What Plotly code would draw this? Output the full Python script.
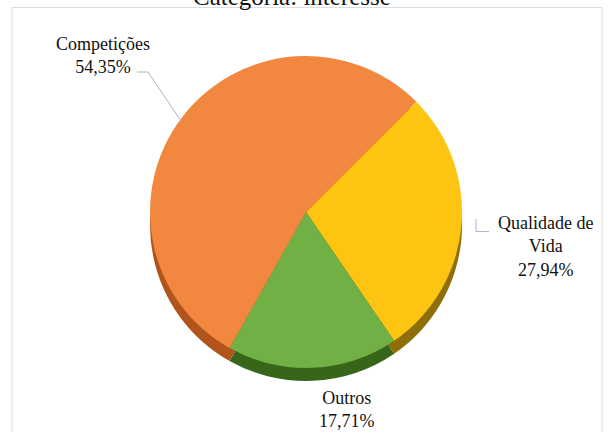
import plotly.graph_objects as go

# Category shares (percent), listed clockwise from the orange/yellow boundary
categorias = ["Qualidade de Vida", "Outros", "Competições"]
rotulos = ["Qualidade de<br>Vida", "Outros", "Competições"]
percentuais = [27.94, 17.71, 54.35]

cores_topo = ["#FEC412", "#70B044", "#F2873F"]
cores_lateral = ["#8E6E08", "#37651A", "#B0541C"]

titulo = "Categoria: interesse"

W, H = 609, 432


def px(x):
    return x / W


def py(y):
    return 1 - y / H


def dominio(cx, cy, r):
    return dict(x=[px(cx - r), px(cx + r)], y=[py(cy + r), py(cy - r)])


# pie geometry (pixels)
CX, CY, R, ESPESSURA = 306, 212, 156, 13

fig = go.Figure()

# darker copy underneath gives the pie its thickness
fig.add_trace(go.Pie(
    labels=categorias, values=percentuais, sort=False,
    direction="clockwise", rotation=45,
    marker=dict(colors=cores_lateral, line=dict(width=0)),
    textinfo="none", hoverinfo="skip", showlegend=False,
    domain=dominio(CX, CY + ESPESSURA, R),
))

fig.add_trace(go.Pie(
    labels=categorias, values=percentuais, sort=False,
    direction="clockwise", rotation=45,
    marker=dict(colors=cores_topo, line=dict(width=0)),
    textinfo="none", showlegend=False,
    hovertemplate="%{label}: %{value:.2f}%<extra></extra>",
    domain=dominio(CX, CY, R),
))

# label anchors (pixels, centre of each text block)
pos_rotulos = [(545, 246), (347, 409), (103, 55)]

anotacoes = []
for nome, v, (lx, ly) in zip(rotulos, percentuais, pos_rotulos):
    texto = f"{nome}<br>{v:.2f}".replace(".", ",") + "%"
    anotacoes.append(dict(
        text=texto, x=px(lx), y=py(ly), xref="paper", yref="paper",
        xanchor="center", yanchor="middle", showarrow=False, align="center",
        font=dict(family="Liberation Serif, Times New Roman, serif", size=18, color="#111111"),
    ))

anotacoes.append(dict(
    text=titulo, x=px(292), y=py(12), xref="paper", yref="paper",
    xanchor="center", yanchor="bottom", showarrow=False,
    font=dict(family="Liberation Serif, Times New Roman, serif", size=25, color="#111111"),
))


def caminho(pontos):
    return "M " + " L ".join(f"{px(x):.5f},{py(y):.5f}" for x, y in pontos)


cor_guia = "#A9B8CC"
formas = [
    dict(type="rect", xref="paper", yref="paper",
         x0=px(12), x1=px(602), y0=py(440), y1=py(7.5),
         line=dict(color="#D9DEE5", width=1), fillcolor="rgba(0,0,0,0)", layer="below"),
    dict(type="path", xref="paper", yref="paper",
         path=caminho([(137, 72), (148, 72), (181, 121)]),
         line=dict(color=cor_guia, width=1)),
    dict(type="path", xref="paper", yref="paper",
         path=caminho([(476, 219), (476, 231.5), (489, 231.5)]),
         line=dict(color=cor_guia, width=1)),
]

fig.update_layout(
    width=W, height=H,
    margin=dict(l=0, r=0, t=0, b=0),
    paper_bgcolor="white", plot_bgcolor="white",
    annotations=anotacoes, shapes=formas,
    showlegend=False,
)

fig.write_html("out.html")
